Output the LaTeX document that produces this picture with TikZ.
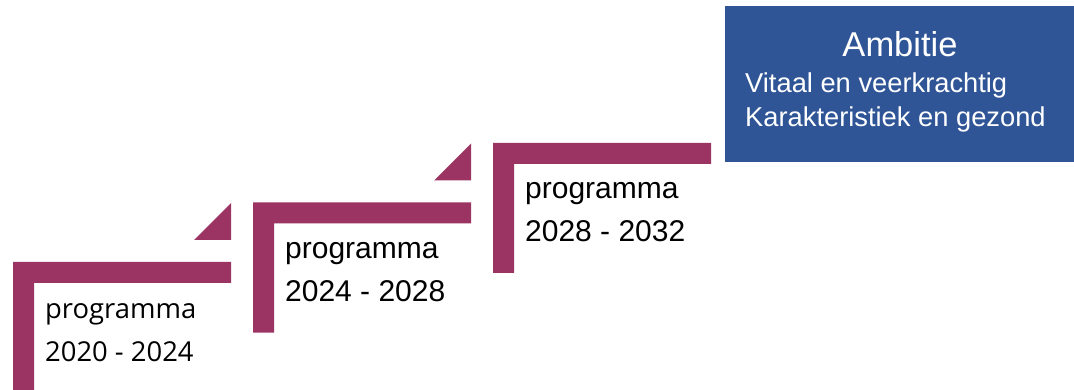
\documentclass[tikz,border=0pt]{standalone}
\usepackage{fontspec}
\setmainfont{Liberation Sans}
\newfontfamily\opensans{Open Sans}
\usetikzlibrary{positioning}
\definecolor{stepred}{RGB}{155,52,98}
\definecolor{ambblue}{RGB}{47,85,151}

\begin{document}
\begin{tikzpicture}
    [x=1pt,y=-1pt,
     bar/.style={fill=stepred},
     progtext/.style={anchor=base west,inner sep=0pt,font=\fontsize{30}{36}\selectfont},
     ambtext/.style={inner sep=0pt,text=white,font=\fontsize{27.3}{32}\selectfont}]
  \useasboundingbox (0,0) rectangle (1074,390);
  \foreach \i/\yrs/\fnt in {0/2020 - 2024/\opensans\fontsize{27.4}{32}\selectfont,
                            1/2024 - 2028/\relax,2/2028 - 2032/\relax} {
    \begin{scope}[shift={(240*\i,-59.5*\i)}]
      \fill[bar] (13,392) |- (231,262) -- (231,283) -| (34,392) -- cycle;
      \ifnum\i<2
        \fill[bar] (194,240) -- (231,240) -- (231,203) -- cycle;
      \fi
      \node[progtext] (prog\i) at (45,318) {\fnt programma};
      \node[progtext] (year\i) at ([yshift=-43pt]prog\i.base west) {\fnt\yrs};
    \end{scope}
  }
  \node[fill=ambblue,inner sep=0pt,minimum width=349pt,minimum height=156pt,
        anchor=north west] (ambitie) at (725,6) {};
  \node[ambtext,anchor=base,font=\fontsize{34.5}{40}\selectfont] (ambtitle) at (900,57) {Ambitie};
  \node[ambtext,anchor=base west] (amb1) at (745,93) {Vitaal en veerkrachtig};
  \node[ambtext,anchor=base west] (amb2) at (745,127) {Karakteristiek en gezond};
\end{tikzpicture}
\end{document}
